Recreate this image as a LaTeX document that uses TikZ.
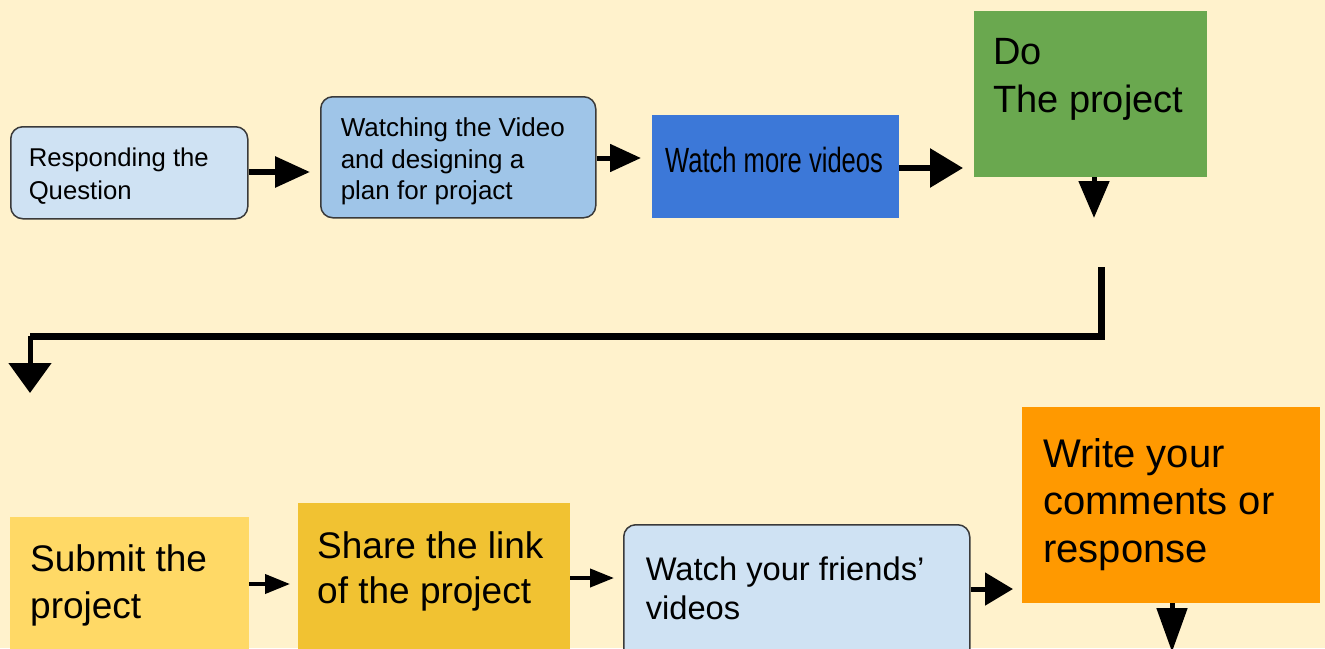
\documentclass[tikz,border=0pt]{standalone}
\usepackage{fontspec}
\setmainfont{Liberation Sans}
\usepackage{graphicx}
\usetikzlibrary{arrows.meta}
\definecolor{bgc}{HTML}{FFF2CC}
\definecolor{lblue}{HTML}{CFE2F3}
\definecolor{mblue}{HTML}{9FC5E8}
\definecolor{dblue}{HTML}{3C78D8}
\definecolor{dgreen}{HTML}{6AA84F}
\definecolor{lyellow}{HTML}{FFD966}
\definecolor{dyellow}{HTML}{F1C232}
\definecolor{orng}{HTML}{FF9900}
\definecolor{bordc}{HTML}{3A3A3A}
% #1 height, #2 width, #3 left pad, #4 first baseline from top, #5 text
\newcommand{\btx}[5]{\parbox[c][#1][t]{#2}{\raggedright\leftskip=#3\relax\vspace*{\dimexpr #4-0.7\baselineskip\relax}\strut #5}}
\tikzset{
  sqbox/.style={inner sep=0pt, anchor=north west, text=black},
  rbox/.style={sqbox, draw=bordc, line width=1.5pt, rounded corners=12pt},
  conn/.style={line width=#1, draw=black},
}
\begin{document}
\begin{tikzpicture}[x=1pt,y=-1pt]
\useasboundingbox (0,0) rectangle (1325,648);
\fill[bgc] (0,0) rectangle (1325,648);
\begin{scope}
\clip (0,0) rectangle (1325,648);
% top row
\node[rbox, fill=lblue, font=\fontsize{25.7}{33}\selectfont] (b1) at (10,126)
  {\btx{92pt}{237pt}{18pt}{40pt}{Responding the\\Question}};
\node[rbox, fill=mblue, font=\fontsize{26}{31.5}\selectfont] (b2) at (320,96)
  {\btx{121pt}{275pt}{20pt}{40pt}{Watching the Video\\and designing a\\plan for projact}};
\node[sqbox, fill=dblue, font=\fontsize{35}{40}\selectfont] (b3) at (652,115)
  {\btx{103pt}{247pt}{13pt}{57pt}{\scalebox{0.73}[1]{Watch more videos}}};
\node[sqbox, fill=dgreen, font=\fontsize{38}{48}\selectfont] (b4) at (974,11)
  {\btx{166pt}{233pt}{19pt}{53pt}{Do\\The project}};
% bottom row
\node[sqbox, fill=lyellow, font=\fontsize{37}{47}\selectfont] (b5) at (10,517)
  {\btx{150pt}{239pt}{20pt}{54pt}{Submit the\\project}};
\node[sqbox, fill=dyellow, font=\fontsize{37}{45}\selectfont] (b6) at (298,503)
  {\btx{160pt}{272pt}{19pt}{55pt}{Share the link\\of the project}};
\node[rbox, fill=lblue, font=\fontsize{32.7}{39}\selectfont] (b7) at (623,524)
  {\btx{150pt}{346pt}{22pt}{56pt}{Watch your friends’\\videos}};
\node[sqbox, fill=orng, font=\fontsize{40}{47.5}\selectfont] (b8) at (1022,407)
  {\btx{196pt}{298pt}{21pt}{60pt}{Write your\\comments or\\response}};
% coordinates for free ends
\coordinate (c1) at (1094,218);
\coordinate (c2) at (1101,267);
\coordinate (c3) at (30,336);
\coordinate (c4) at (30,393);
\coordinate (c5) at (1172,652);
% connectors top row
\draw[conn=6pt, -{Triangle[length=35pt,width=30pt]}, shorten >=10pt]
  (b1.east |- 0,172) -- (b2.west |- 0,172);
\draw[conn=5pt, -{Triangle[length=31pt,width=27pt]}, shorten >=11pt]
  (b2.east |- 0,158) -- (b3.west |- 0,158);
\draw[conn=6pt, -{Triangle[length=33pt,width=38pt]}, shorten >=11pt]
  (b3.east |- 0,168) -- (b4.west |- 0,168);
\draw[conn=5pt, -{Triangle[length=37pt,width=30pt]}]
  (b4.south -| 1094,0) -- (c1);
% long return connector
\draw[conn=7pt] (c2) |- (c3);
\draw[conn=5pt, -{Triangle[length=30pt,width=42pt]}] (c3) -- (c4);
% connectors bottom row
\draw[conn=4pt, -{Triangle[length=25pt,width=19pt]}, shorten >=8pt]
  (b5.east |- 0,584) -- (b6.west |- 0,584);
\draw[conn=4pt, -{Triangle[length=24pt,width=18pt]}, shorten >=9pt]
  (b6.east |- 0,578) -- (b7.west |- 0,578);
\draw[conn=5pt, -{Triangle[length=28pt,width=32pt]}, shorten >=9pt]
  (b7.east |- 0,589) -- (b8.west |- 0,589);
\draw[conn=5pt, -{Triangle[length=44pt,width=30pt]}]
  (b8.south -| 1172,0) -- (c5);
\end{scope}
\end{tikzpicture}
\end{document}
